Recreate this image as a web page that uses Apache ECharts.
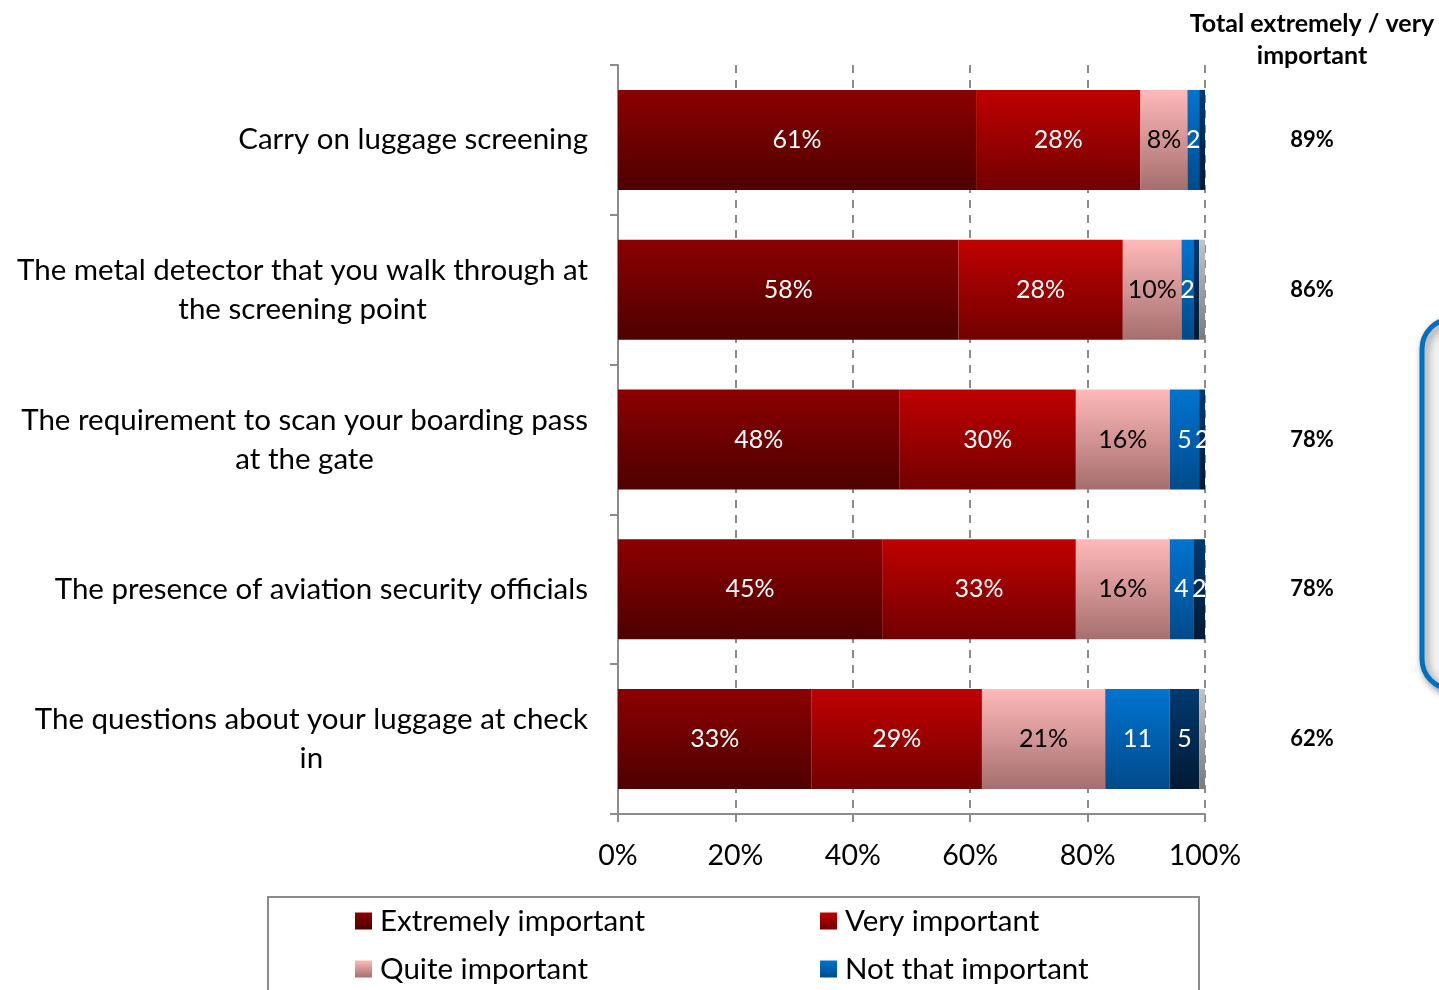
<!DOCTYPE html>
<html>
<head>
<meta charset="utf-8">
<style>
  html, body { margin: 0; padding: 0; background: #fff; }
  #chart { width: 1439px; height: 990px; }
</style>
<script src="https://cdn.jsdelivr.net/npm/echarts@6/dist/echarts.min.js"></script>
</head>
<body>
<div id="chart"></div>
<script>
// Survey items (top to bottom)
const categories = [
  'Carry on luggage screening',
  'The metal detector that you walk through at\nthe screening point',
  'The requirement to scan your boarding pass\nat the gate',
  'The presence of aviation security officials',
  'The questions about your luggage at check\nin'
];

// Shares of respondents per rating (%)
const extremely = [61, 58, 48, 45, 33];
const very      = [28, 28, 30, 33, 29];
const quite     = [8, 10, 16, 16, 21];
const notThat   = [2, 2, 5, 4, 11];
const notAtAll  = [1, 1, 2, 2, 5];
const dontKnow  = [0, 1, 0, 0, 1];

// Extremely + very important
const totals = [89, 86, 78, 78, 62];

const xTicks = [0, 20, 40, 60, 80, 100];

// Legend layout: two columns, read row by row
const legendNames = [
  'Extremely important', 'Very important',
  'Quite important', 'Not that important',
  'Not at all important', "Don't know"
];

const FONT = 'Lato, "Open Sans", sans-serif';

function grad(top, bottom) {
  return new echarts.graphic.LinearGradient(0, 0, 0, 1, [
    { offset: 0, color: top },
    { offset: 1, color: bottom }
  ]);
}

function seg(name, data, top, bottom, labelColor, fmt) {
  return {
    name: name,
    type: 'bar',
    stack: 'all',
    barWidth: 100,
    data: data,
    clip: true,
    itemStyle: { color: grad(top, bottom) },
    label: {
      show: true,
      position: 'inside',
      color: labelColor,
      fontFamily: FONT,
      fontSize: 25,
      formatter: fmt
    },
    emphasis: { disabled: true }
  };
}

const pct = p => (p.value >= 2 ? p.value + '%' : '');
const num = p => (p.value >= 2 ? String(p.value) : '');

// One legend block per entry so the two columns line up
const legends = legendNames.map((name, i) => ({
  orient: 'horizontal',
  left: i % 2 === 0 ? 355 : 820,
  top: 904 + Math.floor(i / 2) * 48,
  icon: 'rect',
  itemWidth: 17,
  itemHeight: 17,
  itemGap: 0,
  padding: 0,
  selectedMode: false,
  textStyle: { color: '#000', fontSize: 29.5, fontFamily: FONT, lineHeight: 34, padding: [0, 0, 0, 3] },
  data: [name]
}));

const chart = echarts.init(document.getElementById('chart'), null, { renderer: 'canvas' });

chart.setOption({
  animation: false,
  textStyle: { fontFamily: FONT },
  grid: { left: 618, right: 234, top: 65, bottom: 176 },
  xAxis: {
    type: 'value',
    min: 0,
    max: 100,
    interval: 20,
    axisLine: { show: true, lineStyle: { color: '#8c8c8c', width: 2 } },
    axisTick: { show: true, length: 8, lineStyle: { color: '#8c8c8c', width: 2 } },
    axisLabel: {
      color: '#000',
      fontSize: 28.5,
      fontFamily: FONT,
      margin: 27,
      formatter: v => (xTicks.indexOf(v) >= 0 ? v + '%' : '')
    },
    splitLine: {
      show: true,
      lineStyle: { color: '#8c8c8c', width: 2, type: [8, 7] }
    }
  },
  yAxis: [
    {
      type: 'category',
      data: categories,
      inverse: true,
      axisLine: { show: true, lineStyle: { color: '#8c8c8c', width: 2 } },
      axisTick: { show: true, length: 8, lineStyle: { color: '#8c8c8c', width: 2 } },
      axisLabel: {
        color: '#000',
        fontSize: 29.5,
        fontFamily: FONT,
        margin: 30,
        align: 'right',
        lineHeight: 39,
        formatter: v => v.split('\n').map(s => '{c|' + s + '}').join('\n'),
        rich: { c: { align: 'center', fontSize: 29.5, lineHeight: 39, fontFamily: FONT, color: '#000' } }
      }
    },
    {
      type: 'category',
      data: totals.map(t => t + '%'),
      inverse: true,
      position: 'right',
      axisLine: { show: false },
      axisTick: { show: false },
      axisLabel: {
        color: '#000',
        fontSize: 22,
        fontWeight: 'bold',
        fontFamily: FONT,
        align: 'center',
        margin: 107,
        padding: [8, 0, 0, 0]
      }
    }
  ],
  legend: legends,
  graphic: [
    {
      type: 'rect',
      z: -1,
      shape: { x: 268, y: 897, width: 931, height: 200 },
      style: { fill: '#fff', stroke: '#8c8c8c', lineWidth: 2 }
    },
    {
      type: 'text',
      x: 1312,
      y: 8,
      style: {
        text: 'Total extremely / very\nimportant',
        fontFamily: FONT,
        fontSize: 25,
        fontWeight: 'bold',
        lineHeight: 32,
        fill: '#000',
        align: 'center'
      }
    },
    {
      type: 'rect',
      shape: { x: 1422, y: 319, width: 80, height: 370, r: 30 },
      style: {
        fill: '#f2f2f2',
        stroke: '#0070c0',
        lineWidth: 5,
        shadowBlur: 8,
        shadowOffsetX: 3,
        shadowOffsetY: 3,
        shadowColor: 'rgba(0,0,0,0.45)'
      }
    }
  ],
  series: [
    seg('Extremely important', extremely, '#8c0000', '#4e0000', '#fff', pct),
    seg('Very important', very, '#c00000', '#720000', '#fff', pct),
    seg('Quite important', quite, '#ffb9b9', '#a56e6e', '#000', pct),
    seg('Not that important', notThat, '#0074d0', '#004a8a', '#fff', num),
    seg('Not at all important', notAtAll, '#003a70', '#001a33', '#fff', num),
    seg("Don't know", dontKnow, '#c4c4c4', '#7a7a7a', '#000', num)
  ]
});
</script>
</body>
</html>
